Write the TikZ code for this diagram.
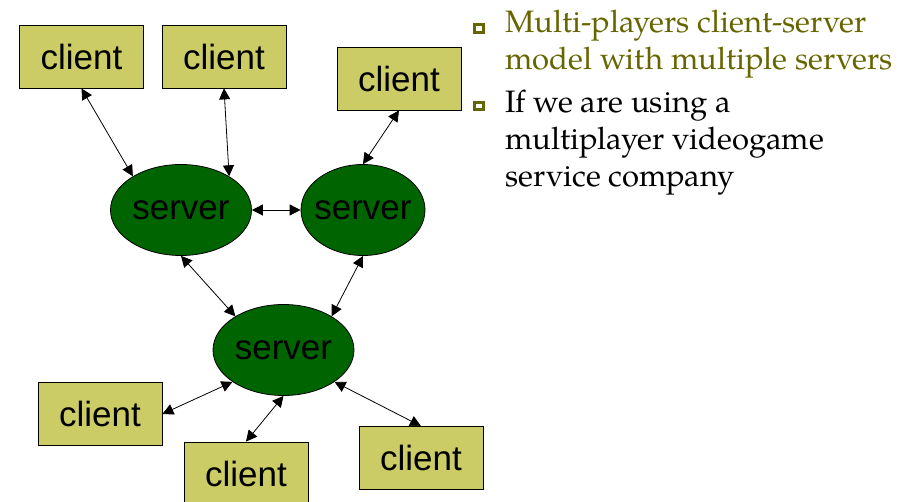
\documentclass[tikz,border=0pt]{standalone}
\usepackage{fontspec}
\usetikzlibrary{shapes.geometric}
\usetikzlibrary{arrows.meta}
\newfontfamily\arialfont{Liberation Sans}
\newfontfamily\bookfont{TeX Gyre Pagella}
\definecolor{clientfill}{RGB}{204,204,102}
\definecolor{servergreen}{RGB}{0,100,0}
\definecolor{olivetext}{RGB}{102,102,0}
\tikzset{>={Triangle[length=11pt,width=11pt]}}
\tikzset{
  client/.style={draw,line width=0.8pt,fill=clientfill,inner sep=0pt,
    minimum width=124pt,minimum height=63pt,
    font=\arialfont\fontsize{35}{35}\selectfont},
  server/.style={ellipse,draw,line width=0.8pt,fill=servergreen,inner sep=0pt,
    minimum height=91pt,font=\arialfont\fontsize{35}{35}\selectfont},
  bullet/.style={draw=olivetext,line width=2.6pt,inner sep=0pt,
    minimum width=9.5pt,minimum height=7.5pt},
  point/.style={anchor=base west,align=left,inner sep=0pt,
    font=\bookfont\fontsize{31}{37}\selectfont}
}

\begin{document}
\begin{tikzpicture}[x=1pt,y=-1pt]
    \useasboundingbox (0,0) rectangle (914,502);
    \node[server,minimum width=141pt] (s1) at (181,210) {\makebox[0pt]{server}};
    \node[server,minimum width=124pt] (s2) at (363,210) {\makebox[0pt]{server}};
    \node[server,minimum width=141pt] (s3) at (283.5,350) {\makebox[0pt]{server}};
    \node[client] (c1) at (81.5,56.5) {client};
    \node[client] (c2) at (224,56.5) {client};
    \node[client] (c3) at (399,78.5) {client};
    \node[client] (c4) at (100,414) {client};
    \node[client] (c5) at (246,473.5) {client};
    \node[client] (c6) at (421,458) {client};
    \foreach \a/\b in {c1.south/s1.145, c2.south/s1.35, c3.south/s2.north,
                       s1.east/s2.west, s1.south/s3.145, s2.south/s3.35,
                       s3.212/c4.east, s3.south/c5.north, s3.-32/c6.north} {
      \draw[<->,line width=0.8pt] (\a) -- (\b);
    }
    % base west of a multi-line node sits on its last line
    \node[bullet] (b1) at (479,28.5) {};
    \node[bullet] (b2) at (479,106) {};
    \node[point,text=olivetext] (t1) at (505,70) {Multi-players client-server\\model with multiple servers};
    \node[point] (t2) at (505,187) {If we are using a\\multiplayer videogame\\service company};
\end{tikzpicture}
\end{document}
